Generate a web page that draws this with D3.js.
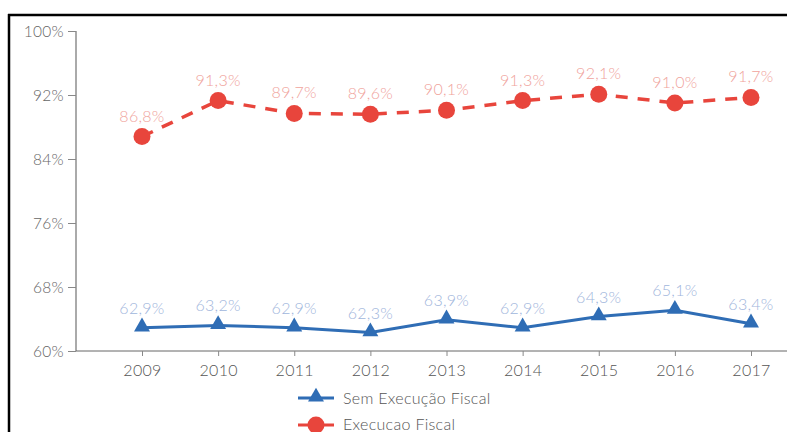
<!DOCTYPE html>
<html><head><meta charset="utf-8">
<script src="https://cdn.jsdelivr.net/npm/d3@7"></script>
<style>
html,body{margin:0;padding:0;background:#fff;}
svg{display:block;}
text{font-family:"Lato","Open Sans",sans-serif;font-weight:300;letter-spacing:0.3px;}
</style></head>
<body>
<svg id="c" width="787" height="432"></svg>
<script>
const years = ["2009","2010","2011","2012","2013","2014","2015","2016","2017"];
const semExecucao = [62.9,63.2,62.9,62.3,63.9,62.9,64.3,65.1,63.4];
const execucao = [86.8,91.3,89.7,89.6,90.1,91.3,92.1,91.0,91.7];
const yTicks = [60,68,76,84,92,100];
const seriesNames = ["Sem Execução Fiscal","Execucao Fiscal"];

const svg = d3.select("#c");
// frame
svg.append("line").attr("x1",8).attr("x2",787).attr("y1",15).attr("y2",15).attr("stroke","#000").attr("stroke-width",2.5);
svg.append("line").attr("x1",9).attr("x2",9).attr("y1",14).attr("y2",432).attr("stroke","#000").attr("stroke-width",2.5);

const x = d3.scalePoint().domain(years).range([142,751]);
const y = d3.scaleLinear().domain([60,100]).range([351,31]);
const fmt = v => d3.format(".1f")(v).replace(".",",")+"%";

// y axis
const ya = svg.append("g").attr("transform","translate(76,0)")
  .call(d3.axisLeft(y).tickValues(yTicks).tickSize(8).tickPadding(4).tickFormat(d=>d+"%"));
ya.select(".domain").attr("stroke","#aaa").attr("stroke-width",2).attr("d","M0,31V351");
ya.selectAll(".tick line").attr("stroke","#888");
ya.selectAll(".tick text").attr("fill","#666").attr("font-size",15.5).attr("dy","0.35em").attr("letter-spacing","-0.2px");

// x axis
const xa = svg.append("g").attr("transform","translate(0,351)")
  .call(d3.axisBottom(x).tickSize(5).tickPadding(6));
xa.select(".domain").attr("stroke","#666").attr("stroke-width",1).attr("d","M76,0H787");
xa.selectAll(".tick line").attr("stroke","#888");
xa.selectAll(".tick text").attr("fill","#555").attr("font-size",16).attr("dy","0.9em");

const red="#e8453c", blue="#2f6db5";
const line = d3.line().x((d,i)=>x(years[i])).y(d=>y(d));

svg.append("path").datum(execucao).attr("d",line).attr("fill","none")
  .attr("stroke",red).attr("stroke-width",3.5).attr("stroke-dasharray","12,10");
svg.append("path").datum(semExecucao).attr("d",line).attr("fill","none")
  .attr("stroke",blue).attr("stroke-width",3);

svg.selectAll("circle.r").data(execucao).enter().append("circle")
  .attr("cx",(d,i)=>x(years[i])).attr("cy",d=>y(d)).attr("r",8.5).attr("fill",red);
const tri = d3.symbol().type(d3.symbolTriangle).size(110);
svg.selectAll("path.t").data(semExecucao).enter().append("path")
  .attr("d",tri).attr("transform",(d,i)=>`translate(${x(years[i])},${y(d)-1})`).attr("fill",blue);

svg.selectAll("text.rl").data(execucao).enter().append("text")
  .attr("x",(d,i)=>x(years[i])).attr("y",d=>y(d)-15).attr("text-anchor","middle")
  .attr("font-size",16).attr("fill","#f0a39c").text(fmt);
svg.selectAll("text.bl").data(semExecucao).enter().append("text")
  .attr("x",(d,i)=>x(years[i])).attr("y",d=>y(d)-14).attr("text-anchor","middle")
  .attr("font-size",16).attr("fill","#9fb6dc").text(fmt);

// legend
const lg = svg.append("g");
lg.append("line").attr("x1",298).attr("x2",334).attr("y1",398).attr("y2",398).attr("stroke",blue).attr("stroke-width",3);
lg.append("path").attr("d",tri).attr("transform","translate(316,397)").attr("fill",blue);
lg.append("text").attr("x",343).attr("y",404).attr("font-size",16).attr("fill","#555").text(seriesNames[0]);
lg.append("line").attr("x1",298).attr("x2",334).attr("y1",425).attr("y2",425).attr("stroke",red).attr("stroke-width",3);
lg.append("circle").attr("cx",316).attr("cy",425).attr("r",8.5).attr("fill",red);
lg.append("text").attr("x",343).attr("y",430).attr("font-size",16).attr("fill","#555").text(seriesNames[1]);
</script>
</body></html>
